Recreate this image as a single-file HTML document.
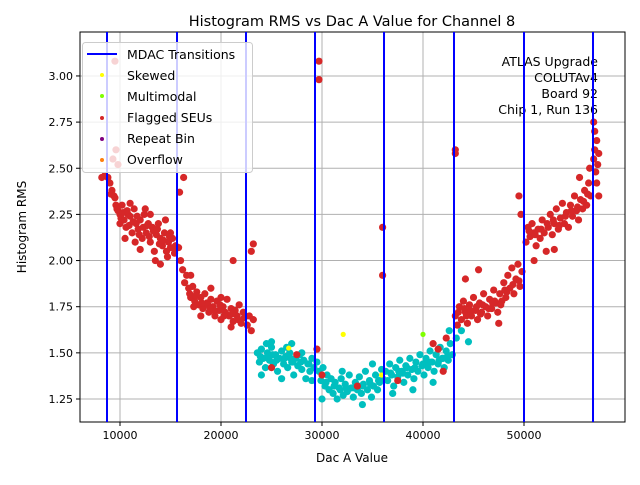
<!DOCTYPE html>
<html><head><meta charset="utf-8"><style>
body{margin:0;background:#fff;}
svg text{font-family:"DejaVu Sans","Liberation Sans",sans-serif;}
</style></head><body>
<svg id="chart" width="640" height="480" xmlns="http://www.w3.org/2000/svg">
<rect width="640" height="480" fill="#fff"/>
<g id="grid"></g>
<g id="vlines"></g>
<g id="pts"></g>
<rect x="80" y="32" width="545" height="390" fill="none" stroke="#000" stroke-width="1"/>
<g id="axes"></g>
<text x="352" y="26" text-anchor="middle" font-size="14.5">Histogram RMS vs Dac A Value for Channel 8</text>
<text x="352" y="462" text-anchor="middle" font-size="12">Dac A Value</text>
<text transform="translate(26,227) rotate(-90)" text-anchor="middle" font-size="12">Histogram RMS</text>
<g font-size="12.5" text-anchor="end">
<text x="598" y="66">ATLAS Upgrade</text>
<text x="598" y="82">COLUTAv4</text>
<text x="598" y="98">Board 92</text>
<text x="598" y="114">Chip 1, Run 136</text>
</g>
<g id="vlinesTop"></g>
<g>
<rect x="82.5" y="42.5" width="170" height="130" rx="3" fill="#fff" fill-opacity="0.8" stroke="#ccc"/>
<line x1="87" y1="54" x2="117" y2="54" stroke="#00f" stroke-width="2"/>
<text x="127" y="59" font-size="12.5">MDAC Transitions</text>
<circle cx="102" cy="75" r="2" fill="#ff0"/><text x="127" y="80" font-size="12.5">Skewed</text>
<circle cx="102" cy="96" r="2" fill="#7fff00"/><text x="127" y="101" font-size="12.5">Multimodal</text>
<circle cx="102" cy="118" r="2" fill="#d62728"/><text x="127" y="122" font-size="12.5">Flagged SEUs</text>
<circle cx="102" cy="139" r="2" fill="#800080"/><text x="127" y="143" font-size="12.5">Repeat Bin</text>
<circle cx="102" cy="160" r="2" fill="#ff7f0e"/><text x="127" y="164" font-size="12.5">Overflow</text>
</g>
</svg>
<script>
const xTicks=[10000,20000,30000,40000,50000];
const yTicks=[1.25,1.5,1.75,2.0,2.25,2.5,2.75,3.0];
const yTickLabels=["1.25","1.50","1.75","2.00","2.25","2.50","2.75","3.00"];
const mdac=[8713,15644,22475,29307,36139,43069,50000,56832];
const redX=[8.2,8.5,8.8,9.3,9.6,9.8,9.5,9.0,9.2,9.4,9.6,9.8,10.0,10.0,10.2,10.4,10.6,10.8,11.0,11.2,11.4,11.6,11.8,12.0,12.2,12.4,12.6,12.8,13.0,13.2,13.4,13.6,13.8,14.0,14.2,14.4,14.6,14.8,15.0,15.2,15.4,15.5,10.5,11.5,12.5,13.5,14.5,9.5,11.0,12.0,13.0,14.0,15.0,
9.1,9.7,10.3,10.9,11.3,11.9,12.3,12.9,13.3,13.9,14.3,14.9,15.3,10.1,10.7,11.7,12.7,13.7,14.7,
15.8,16.0,16.2,16.4,16.6,16.8,17.0,17.2,17.4,17.6,17.8,18.0,18.2,18.4,18.6,18.8,19.0,19.2,19.4,19.6,19.8,20.0,20.2,20.4,20.6,20.8,21.0,21.2,21.4,21.6,21.8,22.0,22.2,17.0,18.0,19.0,20.0,21.0,15.9,16.3,21.2,
16.9,17.5,18.1,18.7,19.3,19.9,20.5,21.1,21.7,22.3,17.3,18.9,20.3,
22.6,22.8,23.0,23.2,23.0,23.2,29.7,29.7,25.0,27.5,29.5,30.0,33.5,36.0,36.0,37.5,41.0,41.5,42.0,42.3,
43.2,43.4,43.6,43.8,44.0,44.2,44.4,44.6,44.8,45.0,45.2,45.4,45.6,45.8,46.0,46.2,46.4,46.6,46.8,47.0,47.2,47.4,47.6,47.8,48.0,48.2,48.4,48.6,48.8,49.0,49.2,49.4,49.6,49.8,43.2,43.2,44.2,45.5,47.5,49.5,49.7,
43.5,44.1,44.7,45.3,45.9,46.5,47.1,47.7,48.3,48.9,49.5,44.3,45.7,46.9,48.1,
50.2,50.4,50.6,50.8,51.0,51.2,51.4,51.6,51.8,52.0,52.2,52.4,52.6,52.8,53.0,53.2,53.4,53.6,53.8,54.0,54.2,54.4,54.6,54.8,55.0,55.2,55.4,55.6,55.8,56.0,56.2,56.4,56.6,51.0,53.0,55.5,56.5,
50.5,51.1,51.7,52.3,52.9,53.5,54.1,54.7,55.3,55.9,56.3,
56.9,57.0,57.1,57.2,57.3,57.4,57.0,57.2,57.4,56.9];
const redY=[2.45,2.46,2.45,2.55,2.60,2.52,3.08,2.42,2.38,2.35,2.30,2.27,2.25,2.20,2.30,2.22,2.18,2.25,2.24,2.15,2.28,2.20,2.17,2.22,2.12,2.25,2.15,2.20,2.10,2.18,2.05,2.14,2.20,2.12,2.08,2.15,2.05,2.10,2.07,2.12,2.04,2.08,2.12,2.10,2.28,2.00,2.22,2.34,2.31,2.06,2.25,1.98,2.15,
2.36,2.28,2.26,2.19,2.21,2.14,2.18,2.13,2.16,2.09,2.11,2.13,2.07,2.23,2.27,2.24,2.19,2.17,2.02,
2.07,2.00,1.95,1.88,1.92,1.85,1.80,1.86,1.78,1.83,1.76,1.80,1.74,1.82,1.77,1.72,1.79,1.75,1.70,1.78,1.73,1.68,1.75,1.72,1.79,1.70,1.74,1.67,1.73,1.70,1.76,1.66,1.72,1.92,1.70,1.85,1.80,1.64,2.37,2.45,2.00,
1.82,1.81,1.77,1.76,1.73,1.76,1.71,1.71,1.68,1.69,1.75,1.74,1.70,
1.65,1.70,1.62,1.68,2.05,2.09,3.08,2.98,1.42,1.49,1.52,1.38,1.32,2.18,1.92,1.35,1.55,1.52,1.40,1.58,
1.70,1.65,1.75,1.68,1.78,1.72,1.66,1.76,1.70,1.80,1.73,1.68,1.77,1.72,1.82,1.75,1.70,1.79,1.74,1.84,1.77,1.72,1.82,1.78,1.88,1.80,1.92,1.85,1.96,1.82,1.90,1.98,1.86,1.94,2.60,2.58,1.90,1.95,1.66,2.35,2.25,
1.72,1.74,1.73,1.75,1.76,1.74,1.78,1.76,1.83,1.87,1.89,1.70,1.71,1.77,1.84,
2.10,2.18,2.13,2.20,2.15,2.08,2.17,2.12,2.22,2.15,2.05,2.18,2.25,2.14,2.20,2.28,2.17,2.23,2.31,2.20,2.26,2.18,2.30,2.24,2.35,2.27,2.22,2.33,2.28,2.38,2.30,2.42,2.35,2.00,2.06,2.45,2.50,
2.16,2.14,2.17,2.20,2.22,2.19,2.24,2.27,2.29,2.32,2.36,
2.55,2.60,2.48,2.65,2.52,2.58,2.70,2.42,2.35,2.75];
const cyanX=[23.6,23.8,24.0,24.2,24.4,24.6,24.8,25.0,25.2,25.4,25.6,25.8,26.0,26.2,26.4,26.6,26.8,27.0,27.2,27.4,27.6,27.8,28.0,28.2,28.4,28.6,28.8,29.0,29.2,24.0,25.0,26.0,27.0,28.0,29.0,24.5,26.5,
23.9,24.7,25.5,26.3,27.1,27.9,28.7,25.1,26.9,
29.5,29.7,29.9,30.1,30.3,30.5,30.7,30.9,31.1,31.3,31.5,31.7,31.9,32.1,32.3,32.5,32.7,32.9,33.1,33.3,33.5,33.7,33.9,34.1,34.3,34.5,34.7,34.9,35.1,35.3,35.5,35.7,35.9,36.0,30.0,32.0,34.0,35.0,
30.4,31.2,32.4,33.2,34.0,34.8,35.6,31.8,33.6,
36.3,36.5,36.7,36.9,37.1,37.3,37.5,37.7,37.9,38.1,38.3,38.5,38.7,38.9,39.1,39.3,39.5,39.7,39.9,40.1,40.3,40.5,40.7,40.9,41.1,41.3,41.5,41.7,41.9,42.1,42.3,42.5,42.7,42.9,37.0,39.0,41.0,42.6,43.3,43.8,44.5,
36.8,37.6,38.4,39.2,40.0,40.8,41.6,42.4,38.0,40.4,42.0];
const cyanY=[1.50,1.45,1.52,1.47,1.42,1.50,1.46,1.53,1.44,1.49,1.40,1.47,1.51,1.44,1.48,1.42,1.50,1.45,1.38,1.47,1.43,1.49,1.41,1.46,1.36,1.44,1.40,1.47,1.42,1.38,1.56,1.36,1.55,1.50,1.35,1.55,1.53,
1.48,1.48,1.46,1.47,1.45,1.45,1.44,1.49,1.47,
1.45,1.40,1.35,1.42,1.32,1.38,1.30,1.36,1.28,1.34,1.25,1.31,1.36,1.27,1.33,1.29,1.38,1.31,1.26,1.34,1.30,1.37,1.28,1.33,1.40,1.30,1.35,1.26,1.32,1.38,1.30,1.34,1.41,1.36,1.25,1.40,1.22,1.44,
1.34,1.32,1.31,1.31,1.32,1.33,1.35,1.30,1.32,
1.40,1.35,1.44,1.38,1.32,1.42,1.37,1.46,1.40,1.34,1.43,1.38,1.47,1.41,1.36,1.45,1.40,1.49,1.43,1.38,1.47,1.42,1.51,1.45,1.40,1.49,1.44,1.53,1.47,1.42,1.51,1.46,1.55,1.49,1.28,1.30,1.34,1.62,1.58,1.62,1.56,
1.39,1.40,1.42,1.42,1.44,1.45,1.46,1.48,1.39,1.44,1.47];
const yellowX=[32.1,26.7,35.9];
const yellowY=[1.60,1.526,1.38];
const greenX=[40.0];
const greenY=[1.60];

const NS="http://www.w3.org/2000/svg";
const L=80,R=625,T=32,B=422;
function sx(v){return 19+v*0.0101;}
function sy(v){return 399-(v-1.25)*184.6;}
function mk(tag,attrs,parent){const e=document.createElementNS(NS,tag);for(const k in attrs)e.setAttribute(k,attrs[k]);parent.appendChild(e);return e;}
const grid=document.getElementById('grid'),axes=document.getElementById('axes');
xTicks.forEach(t=>{const x=sx(t);
 const g=mk('line',{x1:x,x2:x,y1:T,y2:B,stroke:'#b0b0b0','stroke-width':1},grid);
 
 
 mk('line',{x1:x,x2:x,y1:B,y2:B+4,stroke:'#000'},axes);
 const tx=mk('text',{x:x,y:B+17,'text-anchor':'middle','font-size':11},axes);tx.textContent=t;
 
 
});
yTicks.forEach((t,i)=>{const y=sy(t);
 const g=mk('line',{x1:L,x2:R,y1:y,y2:y,stroke:'#b0b0b0','stroke-width':1},grid);
 
 
 mk('line',{x1:L-4,x2:L,y1:y,y2:y,stroke:'#000'},axes);
 const tx=mk('text',{x:L-7,y:y+4,'text-anchor':'end','font-size':11},axes);tx.textContent=yTickLabels[i];
 
 
});
const pts=document.getElementById('pts');
function series(xs,ys,col,name,r){xs.forEach((x,i)=>{const c=mk('circle',{cx:sx(x*1000),cy:sy(ys[i]),r:r,fill:col},pts);
 
 });}
series(cyanX,cyanY,'#00bfbf','cyan-point',3.6);
series(redX,redY,'#d62728','flagged-seu-point',3.6);
series(yellowX,yellowY,'#ffff00','skewed-point',2.6);
series(greenX,greenY,'#7fff00','multimodal-point',2.6);
const vl=document.getElementById('vlinesTop');
mdac.forEach(m=>{const x=sx(m);const l=mk('line',{x1:x,x2:x,y1:T,y2:B,stroke:'#0000ff','stroke-width':2},vl);
 
 });
</script>
</body></html>
